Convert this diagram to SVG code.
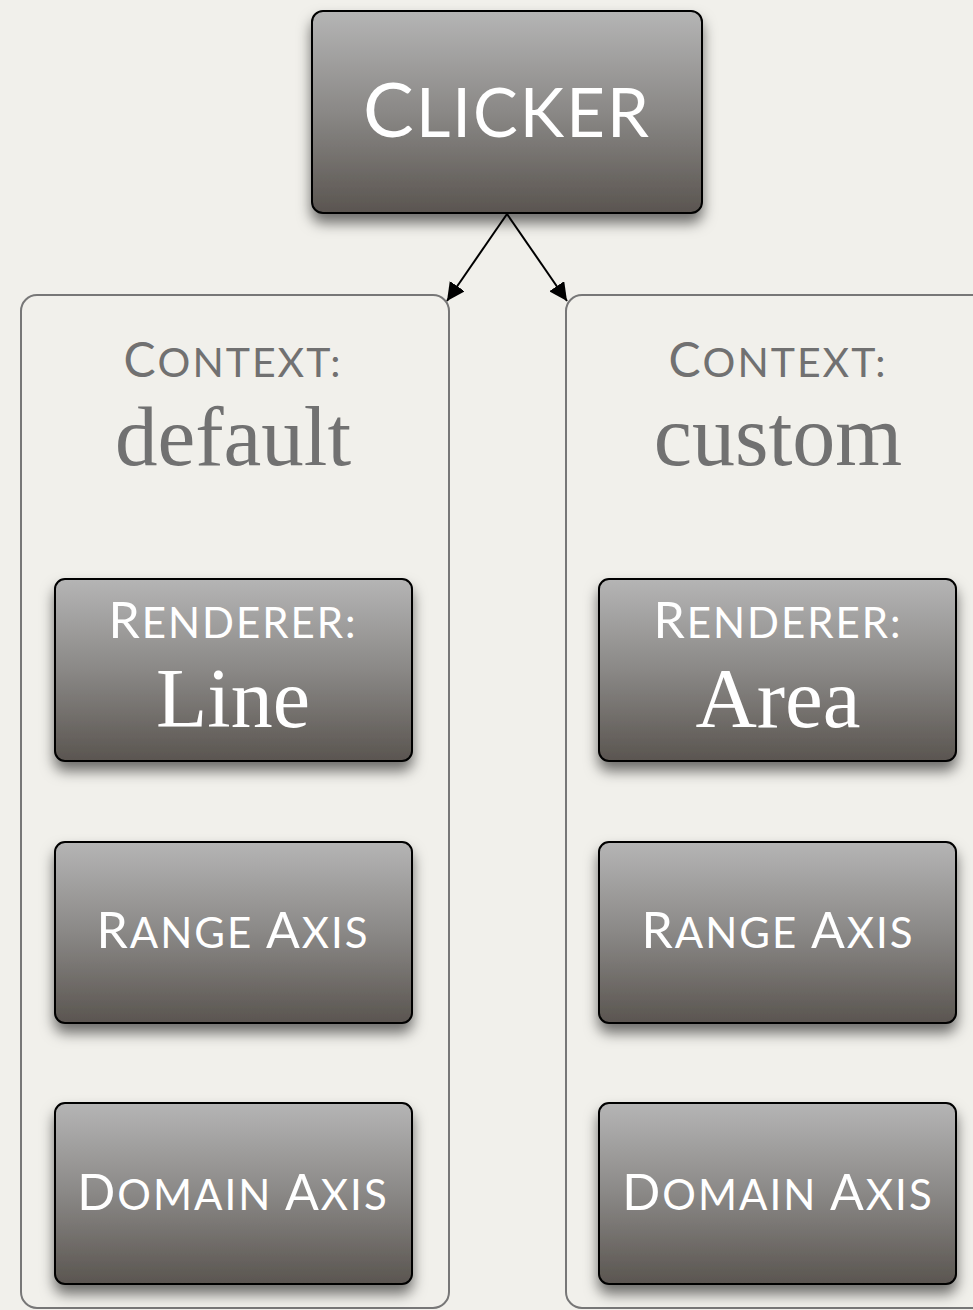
<svg xmlns="http://www.w3.org/2000/svg" width="973" height="1310" viewBox="0 0 973 1310">
<defs>
<linearGradient id="g" x1="0" y1="0" x2="0" y2="1">
<stop offset="0" stop-color="#b5b5b5"/>
<stop offset="0.5" stop-color="#8a8886"/>
<stop offset="1" stop-color="#5a5550"/>
</linearGradient>
<filter id="sh" x="-10%" y="-10%" width="120%" height="135%">
<feDropShadow dx="0" dy="9" stdDeviation="7" flood-color="#000" flood-opacity="0.55"/>
</filter>
<marker id="ah" viewBox="0 0 10 10" refX="10" refY="5" markerWidth="18" markerHeight="18" markerUnits="userSpaceOnUse" orient="auto">
<path d="M0,0 L10,5 L0,10 z" fill="#000"/>
</marker>
<style>
.box{fill:url(#g);stroke:#000;stroke-width:2;filter:url(#sh)}
.ctx{fill:#f1f0eb;stroke:#777;stroke-width:2}
.sc{font-family:Lato,"Open Sans",sans-serif;fill:#fff;text-anchor:middle}
.gr{fill:#717171}
.ser{font-family:"Liberation Serif","Times New Roman",serif;text-anchor:middle}
.conn{stroke:#000;stroke-width:2;fill:none}
</style>
</defs>
<rect width="973" height="1310" fill="#f1f0eb"/>
<g id="ctx-default">
<rect class="ctx" x="21" y="295" width="428" height="1013" rx="16"/>
<text class="sc gr" x="233" y="377" font-size="48" letter-spacing="2"><tspan>C</tspan><tspan font-size="41">ONTEXT:</tspan></text>
<text class="ser gr" x="233" y="465" font-size="85">default</text>
</g>
<g id="ctx-custom">
<rect class="ctx" x="566" y="295" width="440" height="1013" rx="16"/>
<text class="sc gr" x="778" y="377" font-size="48" letter-spacing="2"><tspan>C</tspan><tspan font-size="41">ONTEXT:</tspan></text>
<text class="ser gr" x="778" y="465" font-size="86">custom</text>
</g>
<g id="connectors">
<line class="conn" x1="507" y1="214" x2="447" y2="301" marker-end="url(#ah)"/>
<line class="conn" x1="507" y1="214" x2="567" y2="301" marker-end="url(#ah)"/>
</g>
<g id="clicker">
<rect class="box" x="312" y="11" width="390" height="202" rx="11"/>
<text class="sc" x="507" y="137" font-size="76" letter-spacing="2"><tspan>C</tspan><tspan font-size="67">LICKER</tspan></text>
</g>
<g id="renderer-line">
<rect class="box" x="55" y="579" width="357" height="182" rx="10"/>
<text class="sc" x="233" y="638" font-size="50" letter-spacing="2"><tspan>R</tspan><tspan font-size="42">ENDERER:</tspan></text>
<text class="ser" x="233" y="727" font-size="84" fill="#fff">Line</text>
</g>
<g id="renderer-area">
<rect class="box" x="599" y="579" width="357" height="182" rx="10"/>
<text class="sc" x="778" y="638" font-size="50" letter-spacing="2"><tspan>R</tspan><tspan font-size="42">ENDERER:</tspan></text>
<text class="ser" x="778" y="727" font-size="85" fill="#fff">Area</text>
</g>
<g id="range-left">
<rect class="box" x="55" y="842" width="357" height="181" rx="10"/>
<text class="sc" x="233" y="948" font-size="50" letter-spacing="2"><tspan>R</tspan><tspan font-size="42">ANGE </tspan><tspan>A</tspan><tspan font-size="42">XIS</tspan></text>
</g>
<g id="range-right">
<rect class="box" x="599" y="842" width="357" height="181" rx="10"/>
<text class="sc" x="778" y="948" font-size="50" letter-spacing="2"><tspan>R</tspan><tspan font-size="42">ANGE </tspan><tspan>A</tspan><tspan font-size="42">XIS</tspan></text>
</g>
<g id="domain-left">
<rect class="box" x="55" y="1103" width="357" height="181" rx="10"/>
<text class="sc" x="233" y="1210" font-size="50" letter-spacing="2"><tspan>D</tspan><tspan font-size="42">OMAIN </tspan><tspan>A</tspan><tspan font-size="42">XIS</tspan></text>
</g>
<g id="domain-right">
<rect class="box" x="599" y="1103" width="357" height="181" rx="10"/>
<text class="sc" x="778" y="1210" font-size="50" letter-spacing="2"><tspan>D</tspan><tspan font-size="42">OMAIN </tspan><tspan>A</tspan><tspan font-size="42">XIS</tspan></text>
</g>
</svg>
